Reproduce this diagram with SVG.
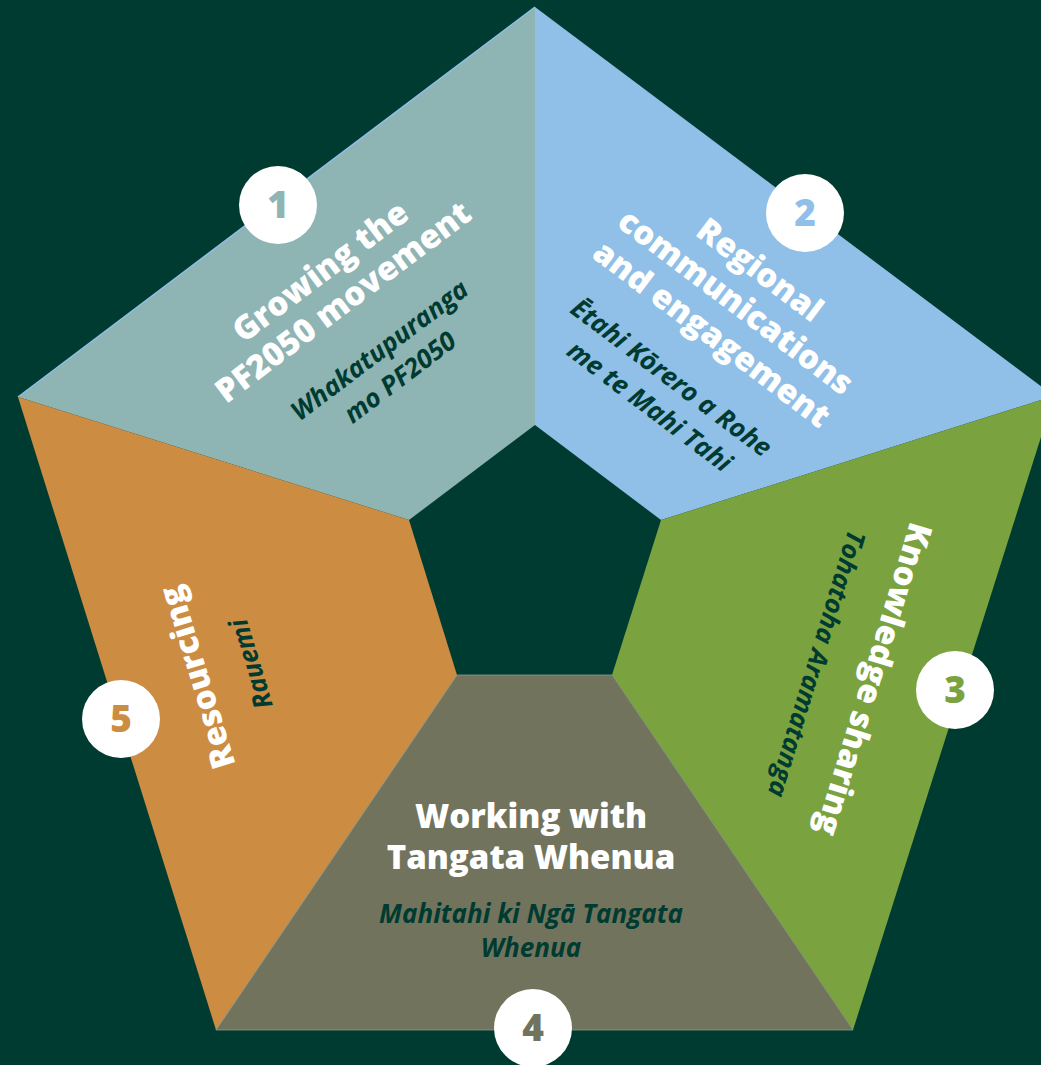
<svg xmlns="http://www.w3.org/2000/svg" width="1041" height="1065" viewBox="0 0 1041 1065">
<style>
.t{font-family:"Open Sans","Liberation Sans",sans-serif;font-weight:800;font-size:33px;fill:#ffffff;text-anchor:middle}
.s{font-family:"Open Sans","Liberation Sans",sans-serif;font-weight:700;font-style:italic;font-size:26px;fill:#003b31;text-anchor:middle}
.n{font-family:"Open Sans","Liberation Sans",sans-serif;font-weight:800;font-size:37px;text-anchor:middle}
.c{fill:#ffffff}
</style>
<rect width="1041" height="1065" fill="#003b31"/>
<g id="connectors"></g>
<g id="seg1">
<polygon points="535,7 18,397 409,520 535,425" fill="#8fb4b4"/>
<line x1="18" y1="397" x2="535" y2="7" stroke="#90bfe7" stroke-width="1.5"/>
<g transform="translate(350,311) rotate(-37)">
<text class="t" x="0" y="-38">Growing the</text>
<text class="t" x="0" y="0">PF2050 movement</text>
<text class="s" x="0" y="58">Whakatupuranga</text>
<text class="s" x="0" y="92">mo PF2050</text>
</g>
<circle class="c" cx="278" cy="205" r="39"/>
<text class="n" x="278" y="218" fill="#8fb4b4">1</text>
</g>
<g id="seg2">
<polygon points="535,7 1054,396 661,520 535,425" fill="#90bfe7"/>
<g transform="translate(729,311) rotate(37)">
<text class="t" x="0" y="-40">Regional</text>
<text class="t" x="0" y="0">communications</text>
<text class="t" x="0" y="40">and engagement</text>
<text class="s" x="-6" y="97">Ētahi Kōrero a Rohe</text>
<text class="s" x="-6" y="133">me te Mahi Tahi</text>
</g>
<circle class="c" cx="805" cy="213" r="39"/>
<text class="n" x="805" y="226" fill="#90bfe7">2</text>
</g>
<g id="seg3">
<polygon points="1054,396 853,1030 612,675 661,520" fill="#7aa33f"/>
<g transform="translate(863,676) rotate(107)">
<text class="t" x="0" y="0">Knowledge sharing</text>
<text class="s" x="2" y="57">Tohatoha Aramatanga</text>
</g>
<circle class="c" cx="955" cy="690" r="39"/>
<text class="n" x="955" y="703" fill="#7aa33f">3</text>
</g>
<g id="seg4">
<polygon points="853,1030 216,1030 457,675 612,675" fill="#72735c" stroke="#8e9a8c" stroke-width="0.8"/>
<text class="t" x="531" y="828">Working with</text>
<text class="t" x="531" y="869">Tangata Whenua</text>
<text class="s" x="531" y="923">Mahitahi ki Ngā Tangata</text>
<text class="s" x="531" y="957">Whenua</text>
<circle class="c" cx="533" cy="1028" r="39"/>
<text class="n" x="533" y="1041" fill="#72735c">4</text>
</g>
<g id="seg5">
<polygon points="216,1030 18,397 409,520 457,675" fill="#cc8c42"/>
<line x1="216" y1="1030" x2="457" y2="675" stroke="#8e9a8c" stroke-width="0.8"/>
<g transform="translate(208,674) rotate(-107)">
<text class="t" x="0" y="0">Resourcing</text>
<text class="s" x="-3" y="53">Rauemi</text>
</g>
<circle class="c" cx="121" cy="719" r="39"/>
<text class="n" x="121" y="732" fill="#cc8c42">5</text>
</g>
</svg>
